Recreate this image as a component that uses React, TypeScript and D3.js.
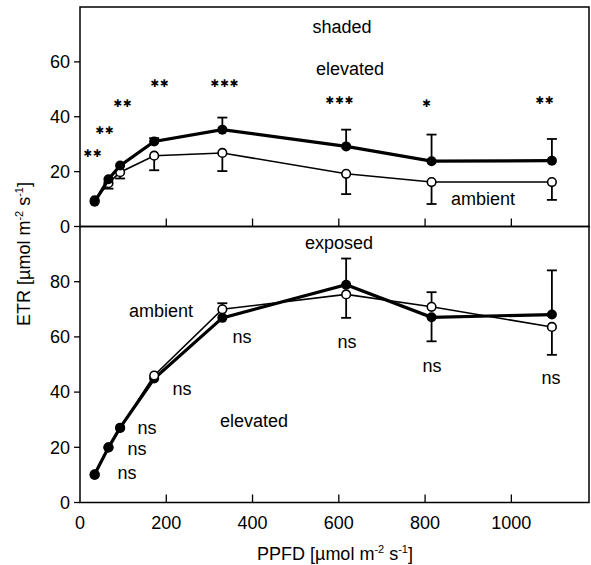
import React from "react";
import * as d3 from "d3";

// ---- data ----
const ppfd = [34, 66, 93, 172, 330, 617, 815, 1094];

// shaded leaves
const shadedElevated = [9.0, 17.2, 22.2, 31.0, 35.3, 29.2, 23.8, 24.0];
const shadedElevatedErrUp = [null, null, null, 32.2, 39.7, 35.3, 33.5, 31.9];
const shadedAmbient = [9.5, 15.8, 19.8, 25.8, 26.8, 19.2, 16.2, 16.2];
const shadedAmbientErrLow = [null, 13.8, 17.5, 20.5, 20.2, 11.8, 8.2, 9.7];

// exposed leaves
const exposedElevated = [10.2, 19.9, 27.1, 44.9, 66.9, 78.9, 67.1, 68.1];
const exposedElevatedErr = [null, null, null, null, null, 88.4, 58.4, 84.1];
const exposedAmbient = [10.0, 20.0, 27.0, 46.0, 70.0, 75.4, 70.9, 63.6];
const exposedAmbientErr = [null, null, null, null, 72.2, 66.9, 76.2, 53.5];

const xTicks = [0, 200, 400, 600, 800, 1000];
const yTicksTop = [0, 20, 40, 60];
const yTicksBottom = [0, 20, 40, 60, 80];

const starLabels = ["✱✱", "✱✱", "✱✱", "✱✱", "✱✱✱", "✱✱✱", "✱", "✱✱"];
const starPos: [number, number][] = [[93, 153], [105, 130], [123, 103], [160, 83], [225, 83], [340, 100], [427, 103], [545, 100]];

const topTexts = ["shaded", "elevated", "ambient"];
const topTextPos: [number, number][] = [[342, 28], [350, 70], [483, 200]];

const bottomTexts = ["exposed", "ambient", "elevated", "ns", "ns", "ns", "ns", "ns", "ns", "ns", "ns"];
const bottomTextPos: [number, number][] = [
  [339, 244], [161, 312], [254, 422], [242, 338], [182, 390], [147, 429], [137, 450], [127, 474],
  [347, 343], [432, 367], [551, 379],
];

const W = 591;
const H = 565;
const FONT = "'Liberation Sans', Arial, sans-serif";
const FS = 18;

export default function App() {
  const x = d3.scaleLinear().domain([0, 1180]).range([80, 589]);
  const yTop = d3.scaleLinear().domain([0, 80]).range([226.5, 7]);
  const yBot = d3.scaleLinear().domain([0, 100]).range([502.5, 226.5]);

  const line = (ys: d3.ScaleLinear<number, number>, vals: number[]) =>
    d3.line<number>().x((_, i) => x(ppfd[i])).y((v) => ys(v))(vals) || "";

  const errBars = (ys: d3.ScaleLinear<number, number>, vals: number[], ends: (number | null)[], key: string) =>
    ends.map((e, i) =>
      e == null ? null : (
        <g key={key + i} stroke="#000" strokeWidth={1.8}>
          <line x1={x(ppfd[i])} x2={x(ppfd[i])} y1={ys(vals[i])} y2={ys(e)} />
          <line x1={x(ppfd[i]) - 5} x2={x(ppfd[i]) + 5} y1={ys(e)} y2={ys(e)} />
        </g>
      )
    );

  const panel = (
    ys: d3.ScaleLinear<number, number>,
    elev: number[],
    amb: number[],
    elevErr: (number | null)[],
    ambErr: (number | null)[],
    yTicks: number[],
    key: string
  ) => {
    const openCircle = (v: number, i: number) => (
      <circle key={"o" + i} cx={x(ppfd[i])} cy={ys(v)} r={4.3} fill="#fff" stroke="#000" strokeWidth={1.6} />
    );
    const [r0, r1] = ys.range();
    return (
      <g>
        {errBars(ys, elev, elevErr, key + "ee")}
        {errBars(ys, amb, ambErr, key + "ae")}
        <path d={line(ys, amb)} fill="none" stroke="#000" strokeWidth={1.6} />
        {amb.map((v, i) => (v <= elev[i] + 0.5 ? openCircle(v, i) : null))}
        <path d={line(ys, elev)} fill="none" stroke="#000" strokeWidth={3.2} />
        {elev.map((v, i) => (
          <circle key={"f" + i} cx={x(ppfd[i])} cy={ys(v)} r={5} fill="#000" />
        ))}
        {amb.map((v, i) => (v > elev[i] + 0.5 ? openCircle(v, i) : null))}
        {yTicks.map((t) => (
          <g key={key + "yt" + t}>
            <line x1={74} x2={80} y1={ys(t)} y2={ys(t)} stroke="#000" strokeWidth={1.3} />
            <text x={70} y={ys(t)} dy="0.35em" textAnchor="end" fontFamily={FONT} fontSize={FS}>
              {t}
            </text>
          </g>
        ))}
        {xTicks.slice(1).map((t) => (
          <line key={key + "xt" + t} x1={x(t)} x2={x(t)} y1={r0} y2={r0 - 8} stroke="#000" strokeWidth={1.3} />
        ))}
        <rect x={80} y={r1} width={509} height={r0 - r1} fill="none" stroke="#000" strokeWidth={1.5} />
      </g>
    );
  };

  return (
    <svg width={W} height={H} style={{ position: "absolute", left: 0, top: 0, background: "#fff" }}>
      <rect width={W} height={H} fill="#fff" />
      {panel(yTop, shadedElevated, shadedAmbient, shadedElevatedErrUp, shadedAmbientErrLow, yTicksTop, "top")}
      {panel(yBot, exposedElevated, exposedAmbient, exposedElevatedErr, exposedAmbientErr, yTicksBottom, "bot")}

      {starLabels.map((s, i) => (
        <text key={"s" + i} x={starPos[i][0]} y={starPos[i][1]} dy="0.35em" textAnchor="middle"
          fontFamily="'DejaVu Sans', sans-serif" fontSize={10.5} letterSpacing={0.8}>
          {s}
        </text>
      ))}
      {topTexts.map((s, i) => (
        <text key={"tt" + i} x={topTextPos[i][0]} y={topTextPos[i][1]} dy="0.3em" textAnchor="middle"
          fontFamily={FONT} fontSize={FS}>
          {s}
        </text>
      ))}
      {bottomTexts.map((s, i) => (
        <text key={"bt" + i} x={bottomTextPos[i][0]} y={bottomTextPos[i][1]} dy="0.3em" textAnchor="middle"
          fontFamily={FONT} fontSize={FS}>
          {s}
        </text>
      ))}

      {xTicks.map((t) => (
        <text key={"xl" + t} x={x(t)} y={523} dy="0.35em" textAnchor="middle" fontFamily={FONT} fontSize={FS}>
          {t}
        </text>
      ))}

      <text x={335} y={560} textAnchor="middle" fontFamily={FONT} fontSize={FS}>
        PPFD [µmol m<tspan dy={-7} fontSize={11}>-2</tspan>
        <tspan dy={7}> s</tspan>
        <tspan dy={-7} fontSize={11}>-1</tspan>
        <tspan dy={7}>]</tspan>
      </text>
      <text transform="translate(30,254) rotate(-90)" textAnchor="middle" fontFamily={FONT} fontSize={FS}>
        ETR [µmol m<tspan dy={-7} fontSize={11}>-2</tspan>
        <tspan dy={7}> s</tspan>
        <tspan dy={-7} fontSize={11}>-1</tspan>
        <tspan dy={7}>]</tspan>
      </text>
    </svg>
  );
}
